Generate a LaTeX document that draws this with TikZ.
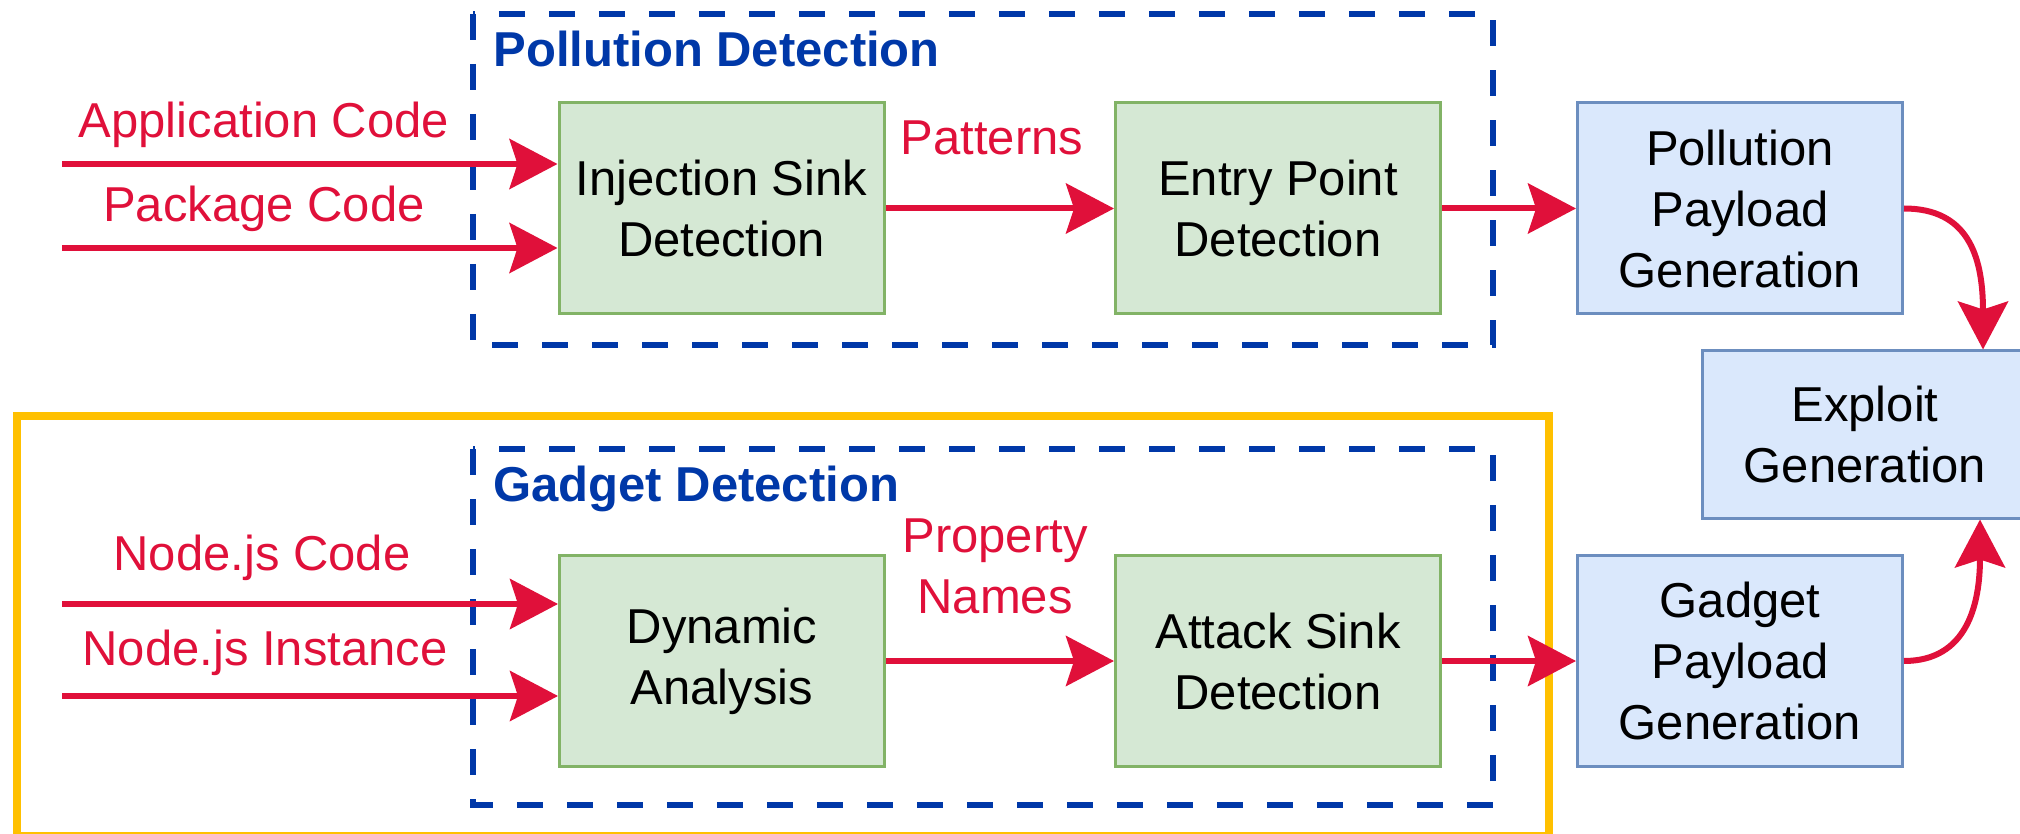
\documentclass[tikz,border=0pt]{standalone}
\usepackage{fontspec}
\setmainfont{Liberation Sans}
\usetikzlibrary{arrows.meta}
\definecolor{redc}{HTML}{E0103A}
\definecolor{bluec}{HTML}{0038A8}
\definecolor{gfill}{HTML}{D5E8D4}
\definecolor{gdraw}{HTML}{82B366}
\definecolor{bfill}{HTML}{DAE8FC}
\definecolor{bdraw}{HTML}{6C8EBF}
\definecolor{yel}{HTML}{FFC000}
\newcommand\diafont{\fontsize{24.5}{30.5}\selectfont}
\begin{document}
\begin{tikzpicture}[x=0.5pt,y=-0.5pt,
  box/.style={draw, line width=1.5pt, minimum width=162.5pt, minimum height=105.5pt, inner sep=0pt, align=center, font=\diafont},
  gbox/.style={box, fill=gfill, draw=gdraw},
  bbox/.style={box, fill=bfill, draw=bdraw},
  flow/.style={draw=redc, line width=3pt, -{Stealth[length=24pt,width=25pt,inset=4pt]}},
  inlabel/.style={text=redc, font=\diafont, anchor=base, inner sep=0pt},
  group/.style={draw=bluec, line width=3pt, dash pattern=on 13pt off 12pt},
  grouptitle/.style={text=bluec, font=\diafont\bfseries, anchor=base west, inner sep=0pt},
  highlight/.style={draw=yel, line width=4pt}]
\useasboundingbox (0,0) rectangle (2020,834);
\clip (0,0) rectangle (2020,834);

% group frames
\draw[highlight] (17,416) rectangle (1549,836);
\draw[group] (473,14) rectangle (1493,345);
\draw[group] (473,449) rectangle (1493,805);
\node[grouptitle] (tpol) at (493,67) {Pollution Detection};
\node[grouptitle] (tgad) at (493,502) {Gadget Detection};

% boxes
\node[gbox] (inj) at (721.5,208.5) {Injection Sink\\Detection};
\node[gbox] (entry) at (1278,208.5) {Entry Point\\Detection};
\node[bbox] (ppg) at (1740,208.5) {Pollution\\Payload\\Generation};
\node[bbox, minimum height=83.5pt] (exp) at (1865,434.5) {Exploit\\Generation};
\node[gbox] (dyn) at (722,661) {Dynamic\\Analysis};
\node[gbox] (atk) at (1278,661) {Attack Sink\\Detection};
\node[bbox] (gpg) at (1740,661) {Gadget\\Payload\\Generation};

% inputs
\coordinate (i1) at (62,164);
\coordinate (i2) at (62,248);
\coordinate (i3) at (62,604);
\coordinate (i4) at (62,696);
\draw[flow] (i1) -- (i1 -| inj.west);
\draw[flow] (i2) -- (i2 -| inj.west);
\draw[flow] (i3) -- (i3 -| dyn.west);
\draw[flow] (i4) -- (i4 -| dyn.west);
\node[inlabel] (lapp) at (264,138) {Application Code};
\node[inlabel] (lpkg) at (264,222) {Package Code};
\node[inlabel] (lnc) at (262,570) {Node.js Code};
\node[inlabel] (lni) at (265,665) {Node.js Instance};

% internal flows
\draw[flow] (inj) -- (entry);
\node[inlabel] (lpat) at (992,155) {Patterns};
\draw[flow] (entry) -- (ppg);
\draw[flow] (dyn) -- (atk);
\node[inlabel, align=center] (lprop) at (995,613) {Property\\Names};
\draw[flow] (atk) -- (gpg);

% to exploit
\draw[flow] (ppg.east) .. controls +(63,0) and +(0,-95) .. ([xshift=59pt]exp.north);
\draw[flow] (gpg.east) .. controls +(63,0) and +(0,85) .. ([xshift=57.5pt]exp.south);
\end{tikzpicture}
\end{document}
